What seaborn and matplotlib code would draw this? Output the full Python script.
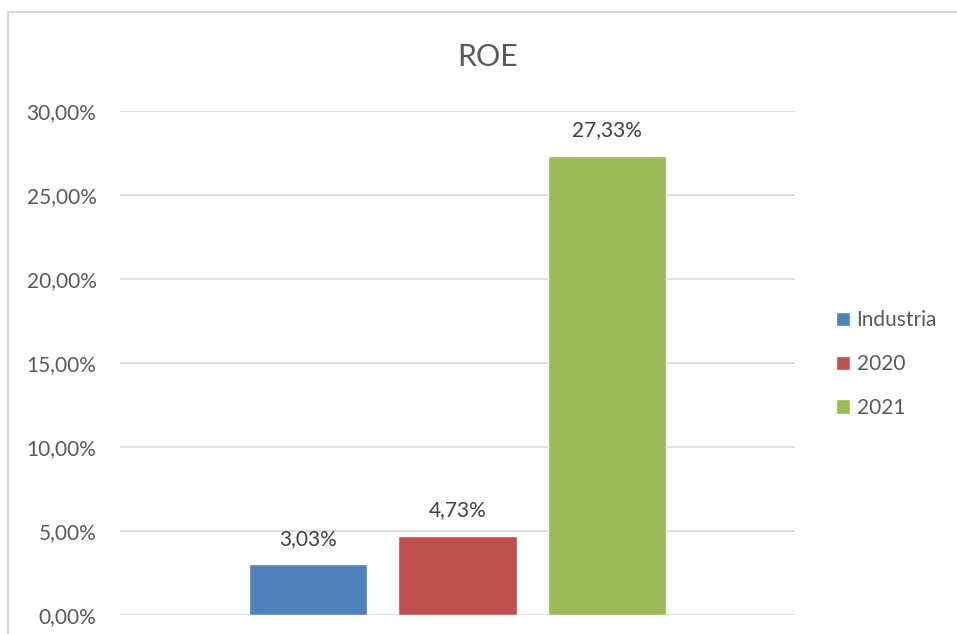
import matplotlib
matplotlib.use("Agg")
import matplotlib.pyplot as plt
import matplotlib.patches as mpatches
import seaborn as sns
import pandas as pd

series = ["Industria", "2020", "2021"]
values = [3.03, 4.73, 27.33]
colors = ["#4F81BD", "#C0504D", "#9BBB59"]
yticks = [0, 5, 10, 15, 20, 25, 30]
title = "ROE"

sns.set_theme(style="white")
plt.rcParams["font.family"] = ["Lato", "DejaVu Sans"]

df = pd.DataFrame({"serie": series, "valor": values})

fig = plt.figure(figsize=(9.57, 6.34), dpi=100)
fig.patch.set_facecolor("white")
ax = fig.add_axes([120/957, 19/634, 675/957, 504/634])

sns.barplot(data=df, x="serie", y="valor", hue="serie", order=series,
            hue_order=series, palette=colors, width=0.79, dodge=False,
            saturation=1, legend=True, ax=ax)

ax.set_xlim(-1.258, 3.258)
ax.set_ylim(0, 30)
ax.set_yticks(yticks)
ax.set_yticklabels([f"{v:.2f}".replace(".", ",") + "%" for v in yticks],
                   fontsize=15, color="#595959")
ax.tick_params(axis="y", length=0, pad=17)
ax.set_xticks([])
ax.set_xlabel("")
ax.set_ylabel("")
for s in ax.spines.values():
    s.set_visible(False)
ax.grid(axis="y", color="#D9D9D9", linewidth=1.2)
ax.set_axisbelow(True)

for c in ax.containers:
    ax.bar_label(c, labels=[f"{v:.2f}".replace(".", ",") + "%" for v in c.datavalues],
                 padding=11, fontsize=15, color="#404040")

handles, labels = ax.get_legend_handles_labels()
leg = ax.legend(handles, labels, loc="center left",
                bbox_to_anchor=(828/957, 1 - 364/634), bbox_transform=fig.transFigure,
                frameon=False, fontsize=15, handlelength=0.67, handleheight=0.67,
                handletextpad=0.3, labelspacing=1.14, borderaxespad=0)
for t in leg.get_texts():
    t.set_color("#595959")

fig.text(488/957, 1 - 57/634, title, ha="center", va="center",
         fontsize=22, color="#595959")

border = mpatches.Rectangle((8/957, -0.1), 1.2, (634 - 12)/634 + 0.1,
                            transform=fig.transFigure, fill=False,
                            edgecolor="#D9D9D9", linewidth=1.5)
fig.patches.append(border)

fig.savefig("out.png", dpi=100, facecolor="white")
